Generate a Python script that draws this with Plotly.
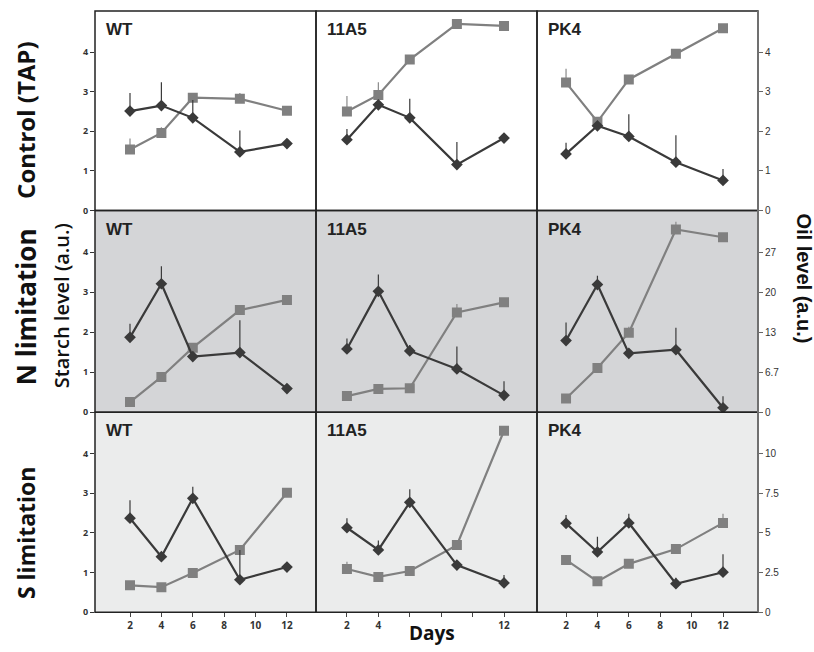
import plotly.graph_objects as go

W, H = 814, 652

days = [2, 4, 6, 9, 12]
strains = ["WT", "11A5", "PK4"]
conditions = ["Control (TAP)", "N limitation", "S limitation"]

# ---- Control (TAP) ----
starch_tap_wt = [2.51, 2.65, 2.34, 1.48, 1.69]
starch_tap_wt_err = [0.46, 0.59, 0.45, 0.54, 0.05]
oil_tap_wt = [1.54, 1.96, 2.85, 2.82, 2.52]
oil_tap_wt_err = [0.28, 0.14, 0.0, 0.15, 0.0]

starch_tap_11a5 = [1.79, 2.67, 2.34, 1.16, 1.83]
starch_tap_11a5_err = [0.27, 0.05, 0.48, 0.57, 0.05]
oil_tap_11a5 = [2.50, 2.92, 3.81, 4.71, 4.66]
oil_tap_11a5_err = [0.39, 0.32, 0.0, 0.0, 0.0]

starch_tap_pk4 = [1.43, 2.14, 1.87, 1.22, 0.76]
starch_tap_pk4_err = [0.28, 0.05, 0.56, 0.68, 0.29]
oil_tap_pk4 = [3.23, 2.24, 3.31, 3.96, 4.60]
oil_tap_pk4_err = [0.35, 0.0, 0.0, 0.0, 0.0]

# ---- N limitation ----
starch_n_wt = [1.87, 3.21, 1.39, 1.49, 0.59]
starch_n_wt_err = [0.34, 0.44, 0.05, 0.81, 0.0]
oil_n_wt = [1.7, 5.9, 10.8, 17.1, 18.8]
oil_n_wt_err = [0.0, 0.0, 0.0, 0.0, 0.0]

starch_n_11a5 = [1.58, 3.02, 1.53, 1.08, 0.42]
starch_n_11a5_err = [0.26, 0.42, 0.15, 0.56, 0.35]
oil_n_11a5 = [2.7, 3.9, 4.0, 16.7, 18.4]
oil_n_11a5_err = [0.0, 0.0, 0.0, 1.4, 0.0]

starch_n_pk4 = [1.79, 3.19, 1.47, 1.56, 0.11]
starch_n_pk4_err = [0.45, 0.22, 0.10, 0.55, 0.29]
oil_n_pk4 = [2.3, 7.4, 13.3, 30.6, 29.3]
oil_n_pk4_err = [0.0, 0.0, 1.0, 1.3, 0.0]

# ---- S limitation ----
starch_s_wt = [2.37, 1.40, 2.87, 0.82, 1.14]
starch_s_wt_err = [0.45, 0.05, 0.29, 0.75, 0.05]
oil_s_wt = [1.70, 1.58, 2.48, 3.93, 7.53]
oil_s_wt_err = [0.0, 0.0, 0.0, 0.0, 0.25]

starch_s_11a5 = [2.13, 1.57, 2.77, 1.19, 0.74]
starch_s_11a5_err = [0.24, 0.24, 0.33, 0.05, 0.20]
oil_s_11a5 = [2.73, 2.23, 2.60, 4.23, 11.43]
oil_s_11a5_err = [0.45, 0.0, 0.0, 0.0, 0.0]

starch_s_pk4 = [2.24, 1.52, 2.25, 0.72, 1.01]
starch_s_pk4_err = [0.21, 0.38, 0.23, 0.15, 0.45]
oil_s_pk4 = [3.30, 1.95, 3.05, 3.98, 5.63]
oil_s_pk4_err = [0.0, 0.0, 0.0, 0.0, 0.58]

starch_panels = [
    [starch_tap_wt, starch_tap_11a5, starch_tap_pk4],
    [starch_n_wt, starch_n_11a5, starch_n_pk4],
    [starch_s_wt, starch_s_11a5, starch_s_pk4],
]
starch_errs = [
    [starch_tap_wt_err, starch_tap_11a5_err, starch_tap_pk4_err],
    [starch_n_wt_err, starch_n_11a5_err, starch_n_pk4_err],
    [starch_s_wt_err, starch_s_11a5_err, starch_s_pk4_err],
]
oil_panels = [
    [oil_tap_wt, oil_tap_11a5, oil_tap_pk4],
    [oil_n_wt, oil_n_11a5, oil_n_pk4],
    [oil_s_wt, oil_s_11a5, oil_s_pk4],
]
oil_errs = [
    [oil_tap_wt_err, oil_tap_11a5_err, oil_tap_pk4_err],
    [oil_n_wt_err, oil_n_11a5_err, oil_n_pk4_err],
    [oil_s_wt_err, oil_s_11a5_err, oil_s_pk4_err],
]

starch_ticks = [0, 1, 2, 3, 4]
oil_tickvals = [[0, 1, 2, 3, 4], [0, 6.7, 13.4, 20.1, 26.8], [0, 2.5, 5, 7.5, 10]]
oil_ticktext = [["0", "1", "2", "3", "4"], ["0", "6.7", "13", "20", "27"], ["0", "2.5", "5", "7.5", "10"]]
oil_scale = [1.0, 6.7, 2.5]
x_ticks = [2, 4, 6, 8, 10, 12]
x_ticktext = [["2", "4", "6", "8", "10", "12"], ["2", "4", "", "", "", "12"], ["2", "4", "6", "8", "10", "12"]]

# ---- layout geometry (pixels) ----
col_px = [(95, 316), (316, 537), (537, 758)]
row_px = [(11, 212.5), (212.5, 416), (416, 618)]
x_ranges = [[-0.23, 13.85], [0.03, 14.1], [0.15, 14.23]]
starch_top = 5.04
row_bg = ["#ffffff", "#d4d5d7", "#ebecec"]

DARK = "#3a3a3a"
GREY = "#808080"

def px_x(p):
    return p / W

def px_y(p):
    return 1 - p / H

fig = go.Figure()
layout = {}
for r in range(3):
    for c in range(3):
        k = r * 3 + c
        xa = f"x{k+1}" if k else "x"
        ybase = 2 * k + 1
        yover = 2 * k + 2
        yb = f"y{ybase}" if ybase > 1 else "y"
        yo = f"y{yover}"
        # oil (base axis, right side)
        fig.add_trace(go.Scatter(
            x=days, y=oil_panels[r][c], xaxis=xa, yaxis=yb, mode="lines+markers",
            line=dict(color=GREY, width=2.2),
            marker=dict(symbol="square", size=10, color=GREY),
            error_y=dict(type="data", array=oil_errs[r][c], arrayminus=[0] * 5,
                         symmetric=False, width=0, thickness=1.2, color="#8a8a8a"),
            hoverinfo="skip"))
        # starch (overlay axis, left side)
        fig.add_trace(go.Scatter(
            x=days, y=starch_panels[r][c], xaxis=xa, yaxis=yo, mode="lines+markers",
            line=dict(color=DARK, width=2.2),
            marker=dict(symbol="diamond", size=9, color=DARK),
            error_y=dict(type="data", array=starch_errs[r][c], arrayminus=[0] * 5,
                         symmetric=False, width=0, thickness=1.2, color=DARK),
            hoverinfo="skip"))
        xname = f"xaxis{k+1}" if k else "xaxis"
        ybname = f"yaxis{ybase}" if ybase > 1 else "yaxis"
        yoname = f"yaxis{yover}"
        bottom = r == 2
        layout[xname] = dict(
            domain=[px_x(col_px[c][0]), px_x(col_px[c][1])],
            anchor=yb, range=x_ranges[c], showgrid=False, zeroline=False,
            showline=False,
            tickvals=x_ticks, ticktext=x_ticktext[c],
            ticks="outside" if bottom else "", ticklen=4, tickcolor="#444",
            showticklabels=bottom,
            tickfont=dict(family="Open Sans", size=10, color="#333", weight="bold"),
        )
        layout[ybname] = dict(
            domain=[px_y(row_px[r][1]), px_y(row_px[r][0])],
            anchor=xa, side="right", range=[0, starch_top * oil_scale[r]],
            showgrid=False, zeroline=False, showline=False,
            tickvals=oil_tickvals[r], ticktext=oil_ticktext[r],
            ticks="outside" if c == 2 else "", ticklen=4, tickcolor="#666",
            showticklabels=(c == 2),
            tickfont=dict(family="Liberation Sans", size=10, color="#333"),
        )
        layout[yoname] = dict(
            overlaying=yb, anchor=xa, side="left", range=[0, starch_top],
            showgrid=False, zeroline=False, showline=False,
            tickvals=starch_ticks,
            ticks="outside" if c == 0 else "", ticklen=4, tickcolor="#333",
            showticklabels=(c == 0),
            tickfont=dict(family="Open Sans", size=9, color="#333", weight="bold"),
        )

shapes = []
for r in range(3):
    shapes.append(dict(type="rect", xref="paper", yref="paper", layer="below",
                       x0=px_x(95), x1=px_x(758), y0=px_y(row_px[r][1]), y1=px_y(row_px[r][0]),
                       fillcolor=row_bg[r], line=dict(width=0)))
for r in range(3):
    for c in range(3):
        shapes.append(dict(type="rect", xref="paper", yref="paper", layer="above",
                           x0=px_x(col_px[c][0]), x1=px_x(col_px[c][1]),
                           y0=px_y(row_px[r][1]), y1=px_y(row_px[r][0]),
                           line=dict(color="#222", width=1.5), fillcolor="rgba(0,0,0,0)"))
shapes.append(dict(type="line", xref="paper", yref="paper", layer="above",
                   x0=px_x(758), x1=px_x(758), y0=px_y(618), y1=px_y(11),
                   line=dict(color="#707070", width=2)))

annotations = []
for r in range(3):
    for c in range(3):
        annotations.append(dict(
            text=strains[c], xref="paper", yref="paper", showarrow=False,
            x=px_x(col_px[c][0] + 9), y=px_y(row_px[r][0] + 19),
            xanchor="left", yanchor="middle",
            font=dict(family="Liberation Sans", size=17, color="#222", weight="bold")))

row_label_y = [122, 310, 538]
row_label_size = [24, 26, 23]
for r in range(3):
    annotations.append(dict(
        text=conditions[r], xref="paper", yref="paper", showarrow=False,
        x=px_x(26), y=px_y(row_label_y[r]), textangle=-90,
        xanchor="center", yanchor="middle",
        font=dict(family="Open Sans", size=row_label_size[r], color="#111", weight="bold")))

annotations.append(dict(
    text="Starch level (a.u.)", xref="paper", yref="paper", showarrow=False,
    x=px_x(61), y=px_y(308), textangle=-90, xanchor="center", yanchor="middle",
    font=dict(family="Open Sans", size=20, color="#111", weight=600)))
annotations.append(dict(
    text="Oil level (a.u.)", xref="paper", yref="paper", showarrow=False,
    x=px_x(804), y=px_y(281), textangle=90, xanchor="center", yanchor="middle",
    font=dict(family="Liberation Sans", size=20, color="#111", weight="bold")))
annotations.append(dict(
    text="Days", xref="paper", yref="paper", showarrow=False,
    x=px_x(432), y=px_y(639), xanchor="center", yanchor="middle",
    font=dict(family="Open Sans", size=19, color="#111", weight="bold")))

fig.update_layout(
    width=W, height=H, autosize=False,
    margin=dict(l=0, r=0, t=0, b=0),
    paper_bgcolor="white", plot_bgcolor="rgba(0,0,0,0)",
    showlegend=False, shapes=shapes, annotations=annotations,
    **layout)

fig.write_html("out.html", config={"displayModeBar": False},
               post_script="document.body.style.margin='0px';document.body.style.padding='0px';document.body.style.overflow='hidden';")
